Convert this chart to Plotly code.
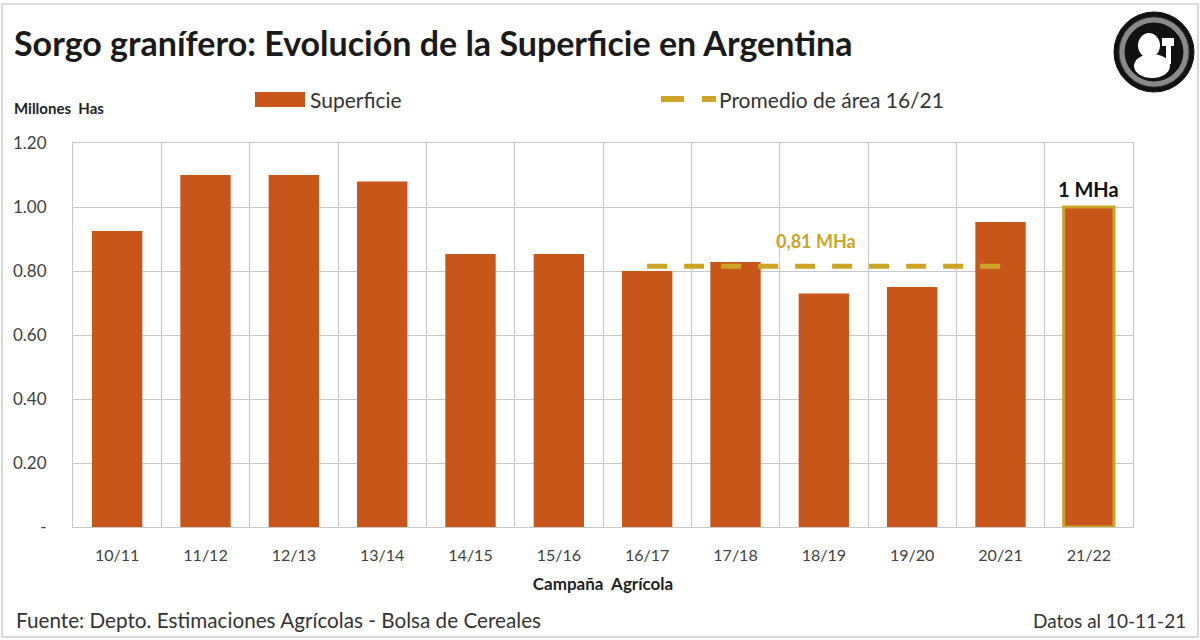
import plotly.graph_objects as go

campanas = ["10/11", "11/12", "12/13", "13/14", "14/15", "15/16", "16/17", "17/18", "18/19", "19/20", "20/21", "21/22"]
superficie = [0.925, 1.10, 1.10, 1.08, 0.853, 0.853, 0.80, 0.828, 0.73, 0.75, 0.953, 1.00]
prom_campanas = ["16/17", "17/18", "18/19", "19/20", "20/21"]
promedio = [0.815, 0.815, 0.815, 0.815, 0.815]
y_ticks = [0, 0.2, 0.4, 0.6, 0.8, 1.0, 1.2]
y_tick_labels = ["-", "0.20", "0.40", "0.60", "0.80", "1.00", "1.20"]

FONT = "Lato"
ORANGE = "#C8561A"
GOLD = "#CDA526"

line_colors = ["rgba(0,0,0,0)"] * (len(campanas) - 1) + [GOLD]
line_widths = [0] * (len(campanas) - 1) + [3]

fig = go.Figure()
fig.add_trace(go.Bar(
    x=campanas, y=superficie, name="Superficie",
    marker=dict(color=ORANGE, line=dict(color=line_colors, width=line_widths)),
    width=0.57,
))
fig.add_trace(go.Scatter(
    x=prom_campanas, y=promedio, name="Promedio de área 16/21",
    mode="lines", line=dict(color=GOLD, width=5, dash="20px,17px"),
))

fig.update_layout(
    width=1200, height=640,
    margin=dict(l=73, r=67, t=143, b=113),
    paper_bgcolor="white", plot_bgcolor="white",
    font=dict(family=FONT, color="#333333"),
    showlegend=False,
)
fig.update_xaxes(
    type="category", tickson="boundaries", showgrid=True, gridcolor="#C8C8C8",
    gridwidth=1, showline=True, linecolor="#C8C8C8", mirror=True,
    ticks="", ticklabelstandoff=14, tickfont=dict(size=16, color="#404040", family=FONT),
    title=dict(text="<b>Campaña  Agrícola</b>", font=dict(size=17, color="#222222", family=FONT), standoff=14),
)
fig.update_yaxes(
    range=[0, 1.2], tickvals=y_ticks, ticktext=y_tick_labels,
    showgrid=True, gridcolor="#C8C8C8", gridwidth=1,
    showline=True, linecolor="#C8C8C8", mirror=True, zeroline=False,
    ticks="", ticklabelstandoff=22, tickfont=dict(size=17, color="#404040", family=FONT),
)


def ptxt(x, y, text, size, color="#222222", xanchor="left", bold=False):
    px = (x - 73) / (1200 - 73 - 67)
    py = (527 - y) / (527 - 143)
    t = f"<b>{text}</b>" if bold else text
    fig.add_annotation(x=px, y=py, xref="paper", yref="paper", text=t, showarrow=False,
                       xanchor=xanchor, yanchor="middle", font=dict(size=size, color=color, family=FONT))


ptxt(12, 42, "Sorgo granífero: Evolución de la Superficie en Argentina", 34, "#1a1a1a", bold=True)
ptxt(12, 108, "Millones  Has", 15, "#222222", bold=True)
ptxt(14, 620, "Fuente: Depto. Estimaciones Agrícolas - Bolsa de Cereales", 20.7, "#333333")
ptxt(1188, 620, "Datos al 10-11-21", 19, "#333333", xanchor="right")


def pshape(x0, y0, x1, y1, **kw):
    fig.add_shape(type=kw.pop("type", "rect"), xref="paper", yref="paper",
                  x0=(x0 - 73) / 1060, x1=(x1 - 73) / 1060,
                  y0=(527 - y0) / 384, y1=(527 - y1) / 384, **kw)


# Legend (manual)
pshape(255, 92, 305, 107, fillcolor=ORANGE, line=dict(width=0))
ptxt(308, 99, "Superficie", 21, "#333333")
pshape(662, 97, 683, 101, fillcolor=GOLD, line=dict(color=GOLD, width=2))
pshape(703, 97, 715, 101, fillcolor=GOLD, line=dict(color=GOLD, width=2))
ptxt(717, 99, "Promedio de área 16/21", 21, "#333333")

# Data labels
fig.add_annotation(x="18/19", y=promedio[2], yshift=25, xshift=-8, text="<b>0,81 MHa</b>", showarrow=False,
                   font=dict(size=18, color=GOLD, family=FONT))
fig.add_annotation(x="21/22", y=superficie[-1], yshift=18, text="<b>1 MHa</b>", showarrow=False,
                   font=dict(size=20, color="#111111", family=FONT))

# Logo
pshape(1114, 12, 1194, 92, type="circle", fillcolor="#111111", line=dict(color="#111111", width=1))
pshape(1119, 17, 1189, 87, type="circle", fillcolor="#8a8a8a", line=dict(color="#444444", width=1))
pshape(1125, 23, 1183, 81, type="circle", fillcolor="#111111", line=dict(color="#111111", width=1))
pshape(1138, 33, 1160, 58, type="circle", fillcolor="white", line=dict(width=0))
pshape(1134, 54, 1170, 78, type="circle", fillcolor="white", line=dict(width=0))
pshape(1162, 38, 1174, 46, type="rect", fillcolor="white", line=dict(width=0))
pshape(1166, 44, 1171, 64, type="rect", fillcolor="white", line=dict(width=0))

# Outer frame
fig.add_shape(type="rect", xref="paper", yref="paper", x0=(2 - 73) / 1060, x1=(1198 - 73) / 1060,
              y0=(527 - 637) / 384, y1=(527 - 4) / 384, line=dict(color="#D9D9D9", width=2), fillcolor="rgba(0,0,0,0)")

fig.write_html("out.html")
